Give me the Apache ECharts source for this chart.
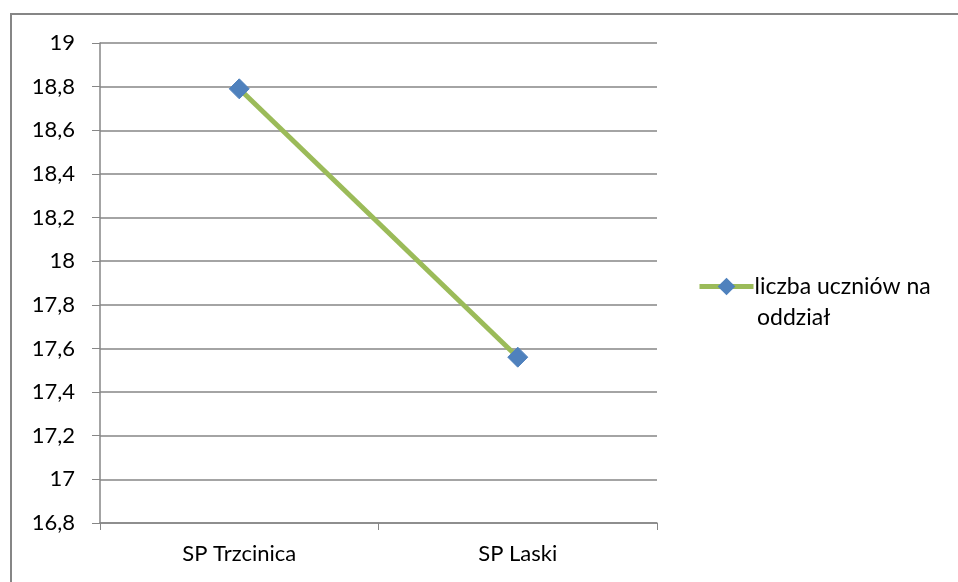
<!DOCTYPE html>
<html>
<head>
<meta charset="utf-8">
<script src="https://cdn.jsdelivr.net/npm/echarts@6/dist/echarts.min.js"></script>
<style>
  html, body { margin: 0; padding: 0; background: #fff; }
  #main { width: 958px; height: 582px; }
</style>
</head>
<body>
<div id="main"></div>
<script>
// dane
var categories = ['SP Trzcinica', 'SP Laski'];
var seriesName = 'liczba uczniów na oddział';
var legendLines = ['liczba uczniów na', 'oddział'];
var values = [18.79, 17.56];
var yMin = 16.8, yMax = 19, yStep = 0.2;

var chartDom = document.getElementById('main');
var myChart = echarts.init(chartDom);
var option;
var font = 'Lato';
var fs = 22;

option = {
  animation: false,
  graphic: [
    {
      type: 'polyline',
      shape: { points: [[11, 582], [11, 14], [958, 14]] },
      style: { stroke: '#868686', lineWidth: 2, fill: null }
    },
    {
      // druga linia legendy
      type: 'text',
      left: 757,
      top: 306,
      style: { text: legendLines[1], font: '23px "' + font + '"', fill: '#000' }
    }
  ],
  grid: { left: 100, right: 301, top: 43, bottom: 59 },
  legend: {
    left: 692,
    top: 270,
    itemWidth: 54,
    itemHeight: 22,
    itemGap: 0,
    formatter: function () { return legendLines[0]; },
    lineStyle: { width: 5 },
    textStyle: { fontFamily: font, fontSize: 23, color: '#000', padding: [0, 0, 0, -4] }
  },
  xAxis: {
    type: 'category',
    data: categories,
    boundaryGap: true,
    axisLine: { lineStyle: { color: '#868686', width: 1.5 } },
    axisTick: { show: true, length: 7, lineStyle: { color: '#868686' } },
    axisLabel: { color: '#000', fontSize: fs, margin: 20, fontFamily: font }
  },
  yAxis: {
    type: 'value',
    min: yMin,
    max: yMax,
    interval: yStep,
    axisLine: { show: true, lineStyle: { color: '#868686', width: 1.5 } },
    axisTick: { show: true, length: 8, lineStyle: { color: '#868686' } },
    splitLine: { lineStyle: { color: '#868686', width: 1.5 } },
    axisLabel: {
      color: '#000',
      fontSize: fs,
      margin: 25,
      fontFamily: font,
      formatter: function (v) {
        return String(Math.round(v * 10) / 10).replace('.', ',');
      }
    }
  },
  series: [
    {
      name: seriesName,
      type: 'line',
      data: values,
      symbol: 'diamond',
      symbolSize: 20,
      lineStyle: { color: '#9bbb59', width: 5 },
      itemStyle: { color: '#4f81bd', borderColor: '#4f81bd' }
    }
  ]
};

option && myChart.setOption(option);
</script>
</body>
</html>
